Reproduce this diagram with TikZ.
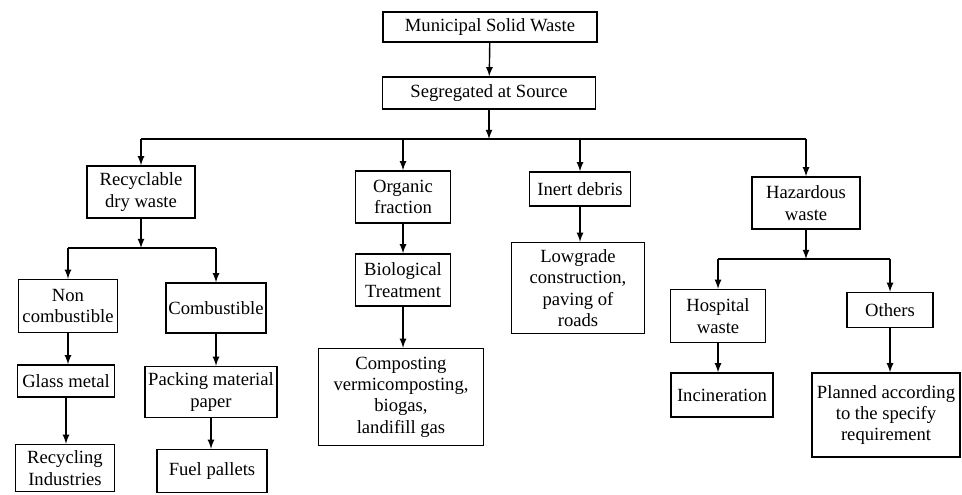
\documentclass[tikz,border=0pt]{standalone}
\usepackage{fontspec}
\setmainfont{Liberation Serif}
\usetikzlibrary{arrows}
\tikzstyle{process} = [rectangle, draw=black, line width=0.8pt, align=center, inner sep=1pt, font=\fontsize{10.6}{12.2}\selectfont]
\tikzstyle{arrow} = [line width=0.8pt,->,>=latex]
\tikzstyle{bus} = [line width=0.8pt]

\begin{document}
\begin{tikzpicture}[x=0.02cm, y=0.02cm]
   \fill [white] (0,0) rectangle (962,-494);
   \useasboundingbox (0,0) rectangle (962,-494);
   % top
   \node (msw) [process, minimum width=4.28cm, minimum height=0.6cm] at (490,-27) {Municipal Solid Waste};
   \node (seg) [process, minimum width=4.26cm, minimum height=0.64cm] at (489,-93) {Segregated at Source};
   % second level
   \node (recy) [process, minimum width=2.16cm, minimum height=1.04cm] at (141,-192) {Recyclable\\dry waste};
   \node (org) [process, minimum width=1.9cm, minimum height=1.04cm] at (403,-197) {Organic\\fraction};
   \node (inert) [process, minimum width=2.02cm, minimum height=0.68cm] at (580,-189) {Inert debris};
   \node (haz) [process, minimum width=2.16cm, minimum height=1.04cm] at (806,-203) {Hazardous\\waste};
   % recyclable branch
   \node (noncomb) [process, minimum width=1.98cm, minimum height=1.06cm] at (68,-306) {Non\\combustible};
   \node (comb) [process, minimum width=2cm, minimum height=1cm] at (216,-308) {Combustible};
   \node (glass) [process, minimum width=1.94cm, minimum height=0.64cm] at (66,-381) {Glass metal};
   \node (pack) [process, minimum width=2.64cm, minimum height=1.02cm] at (211,-392) {Packing material\\paper};
   \node (recind) [process, minimum width=1.98cm, minimum height=0.94cm] at (65,-468) {Recycling\\Industries};
   \node (fuel) [process, minimum width=2.2cm, minimum height=0.86cm] at (212,-471) {Fuel pallets};
   % organic and inert branch
   \node (bio) [process, minimum width=1.9cm, minimum height=1.04cm] at (403,-280) {Biological\\Treatment};
   \node (comp) [process, minimum width=3.3cm, minimum height=1.94cm] at (401,-397) {Composting\\vermicomposting,\\biogas,\\landifill gas};
   \node (lowgr) [process, minimum width=2.66cm, minimum height=1.82cm] at (578,-288) {Lowgrade\\construction,\\paving of\\roads};
   % hazardous branch
   \node (hosp) [process, minimum width=1.9cm, minimum height=1.06cm] at (718,-316) {Hospital\\waste};
   \node (others) [process, minimum width=1.72cm, minimum height=0.7cm] at (890,-310) {Others};
   \node (incin) [process, minimum width=2.04cm, minimum height=0.88cm] at (722,-395) {Incineration};
   \node (plan) [process, minimum width=2.96cm, minimum height=1.68cm] at (886,-415) {Planned according\\to the specify\\requirement};

   \coordinate (b1) at (489,-139);
   \coordinate (b2) at (141,-248);
   \coordinate (b3) at (806,-259);

   \draw [arrow] (msw) -- (seg);
   \draw [arrow] (seg) -- (b1);
   \draw [bus] (b1 -| recy) -- (b1 -| haz);
   \draw [arrow] (b1 -| recy) -- (recy);
   \draw [arrow] (b1 -| org) -- (org);
   \draw [arrow] (b1 -| inert) -- (inert);
   \draw [arrow] (b1 -| haz) -- (haz);

   \draw [arrow] (recy) -- (b2);
   \draw [bus] (b2 -| noncomb) -- (b2 -| comb);
   \draw [arrow] (b2 -| noncomb) -- (noncomb);
   \draw [arrow] (b2 -| comb) -- (comb);
   \draw [arrow] (noncomb) -- (noncomb |- glass.north);
   \draw [arrow] (glass) -- (glass |- recind.north);
   \draw [arrow] (comb) -- (comb |- pack.north);
   \draw [arrow] (pack) -- (pack |- fuel.north);

   \draw [arrow] (org) -- (bio);
   \draw [arrow] (bio) -- (bio |- comp.north);
   \draw [arrow] (inert) -- (inert |- lowgr.north);

   \draw [arrow] (haz) -- (b3);
   \draw [bus] (b3 -| hosp) -- (b3 -| others);
   \draw [arrow] (b3 -| hosp) -- (hosp);
   \draw [arrow] (b3 -| others) -- (others);
   \draw [arrow] (hosp) -- (hosp |- incin.north);
   \draw [arrow] (others) -- (others |- plan.north);
\end{tikzpicture}
\end{document}
